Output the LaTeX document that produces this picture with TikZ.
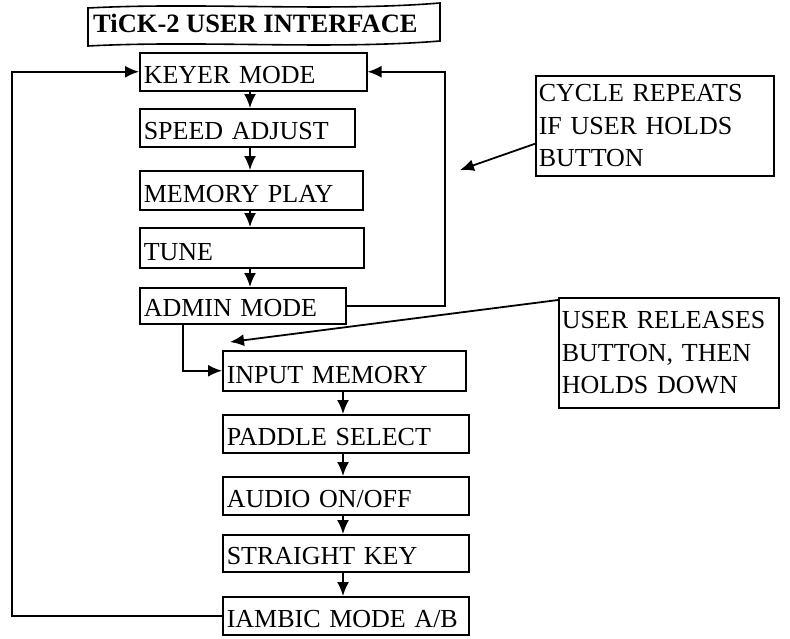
\documentclass[tikz,border=0pt]{standalone}
\usepackage{fontspec}
\setmainfont{Liberation Serif}
\usetikzlibrary{arrows.meta}
\begin{document}
\begin{tikzpicture}[x=1pt,y=-1pt,
  box/.style={draw, line width=1.5pt, anchor=north west, inner xsep=4pt, inner ysep=0pt,
    align=left, font=\fontsize{26}{31}\selectfont, text depth=7pt, text height=31pt},
  note/.style={draw, line width=1.5pt, anchor=north west, inner xsep=3pt, inner ysep=0pt,
    align=left, font=\fontsize{26}{32.5}\selectfont},
  conn/.style={line width=1.8pt},
  arr/.style={conn, -{Latex[length=14pt,width=12pt]}}]
\useasboundingbox (0,0) rectangle (790,638);
% title banner
\draw[line width=1.6pt, fill=white] (88,8) .. controls (200,2) and (330,12) .. (440,3)
  -- (440,41) .. controls (330,50) and (200,40) .. (88,46) -- cycle;
\node[anchor=base west, inner sep=0pt, font=\bfseries\fontsize{26.5}{30}\selectfont] (title) at (93,32) {TiCK-2 USER INTERFACE};
% upper column
\node[box, text width=219pt] (keyer)  at (139,52)  {KEYER MODE};
\node[box, text width=207pt] (speed)  at (139,108) {SPEED ADJUST};
\node[box, text width=215pt, text height=32pt] (memory) at (139,170) {MEMORY PLAY};
\node[box, text width=216pt, text height=33pt] (tune)   at (139,227) {TUNE};
\node[box, text width=198pt, text height=29pt] (admin)  at (139,287) {ADMIN MODE};
% lower column
\node[box, text width=235pt, text height=33pt] (input)    at (222,350) {INPUT MEMORY};
\node[box, text width=238pt] (paddle)   at (222,414) {PADDLE SELECT};
\node[box, text width=238pt] (audio)    at (222,476) {AUDIO ON/OFF};
\node[box, text width=238pt, text height=30pt] (straight) at (222,534) {STRAIGHT KEY};
\node[box, text width=238pt] (iambic)   at (222,596) {IAMBIC MODE A/B};
% callouts
\node[note, text width=232pt, minimum height=100pt] (c1) at (535,75) {CYCLE REPEATS\\IF USER HOLDS\\BUTTON};
\node[note, text width=214pt, minimum height=110pt] (c2) at (558,297) {USER RELEASES\\BUTTON, THEN\\HOLDS DOWN};
% helper coordinates
\coordinate (ax) at (250,0);
\coordinate (bx) at (343,0);
\coordinate (lx) at (12,0);
\coordinate (rx) at (445,0);
\coordinate (tip1) at (460,170);
\coordinate (tip2) at (230,342);
% vertical flow
\draw[arr] (keyer.south -| ax) -- (speed.north -| ax);
\draw[arr] (speed.south -| ax) -- (memory.north -| ax);
\draw[arr] (memory.south -| ax) -- (tune.north -| ax);
\draw[arr] (tune.south -| ax) -- (admin.north -| ax);
\draw[arr] ([xshift=44pt]admin.south west) |- (input.west);
\draw[arr] (input.south -| bx) -- (paddle.north -| bx);
\draw[arr] (paddle.south -| bx) -- (audio.north -| bx);
\draw[arr] (audio.south -| bx) -- (straight.north -| bx);
\draw[arr] (straight.south -| bx) -- (iambic.north -| bx);
% loops
\draw[arr] (iambic.west) -- (iambic.west -| lx) |- (keyer.west);
\draw[arr] (admin.east) -- (admin.east -| rx) |- (keyer.east);
% callout pointers
\draw[arr] ([yshift=-18pt]c1.west) -- (tip1);
\draw[arr] ([yshift=-3pt]c2.north west) -- (tip2);
\end{tikzpicture}
\end{document}
